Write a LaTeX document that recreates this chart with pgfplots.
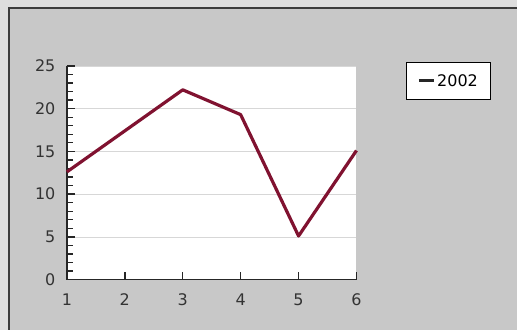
\documentclass[border=0pt]{standalone}
\usepackage{pgfplots}
\pgfplotsset{compat=1.18}
\usepackage{fontspec}
\setmainfont{DejaVu Sans}
\definecolor{bgout}{RGB}{222,222,222}
\definecolor{bgin}{RGB}{200,200,200}
\definecolor{frame}{RGB}{60,60,60}
\definecolor{series}{RGB}{128,18,48}
\definecolor{gridc}{RGB}{215,215,215}
\begin{document}
\begin{tikzpicture}[x=1pt,y=1pt]
\fill[bgout] (0,0) rectangle (518,330);
\fill[bgin] (9,0) rectangle (518,322);
\draw[frame,line width=1.5pt] (9,0) -- (9,322) -- (518,322);
\begin{axis}[
  at={(67pt,50pt)}, anchor=origin,
  scale only axis, width=290pt, height=214pt,
  xmin=1, xmax=6, ymin=0, ymax=25,
  axis background/.style={fill=white},
  axis x line*=bottom, axis y line*=left,
  axis line style={black!85, line width=1.8pt},
  xtick={1,...,6}, ytick={0,5,...,25},
  minor ytick={0,1,...,25},
  tick align=inside,
  major tick length=8pt, minor tick length=6pt,
  tick style={black!85, line width=1.4pt},
  minor tick style={black!85, line width=1.2pt},
  ymajorgrids, major grid style={gridc, line width=0.6pt},
  /pgf/number format/assume math mode=true,
  tick label style={font=\fontsize{16}{18}\selectfont, text=black!80},
  xticklabel style={yshift=-11pt},
  yticklabel style={xshift=-8pt},
  legend style={at={(1.466,1.02)}, anchor=north east, fill=white, draw=black, line width=1.2pt,
    font=\fontsize{16}{18}\selectfont, inner xsep=11pt, inner ysep=10pt},
  legend image code/.code={\draw[#1, line width=2.8pt, black!85] (0pt,0pt) -- (15pt,0pt);},
  clip=false,
]
\addplot[series, line width=3.2pt, line join=round] coordinates {
  (1,12.6) (2,17.4) (3,22.2) (4,19.3) (5,5.1) (6,15.1)
};
\addlegendentry{2002}
\end{axis}
\end{tikzpicture}
\end{document}
